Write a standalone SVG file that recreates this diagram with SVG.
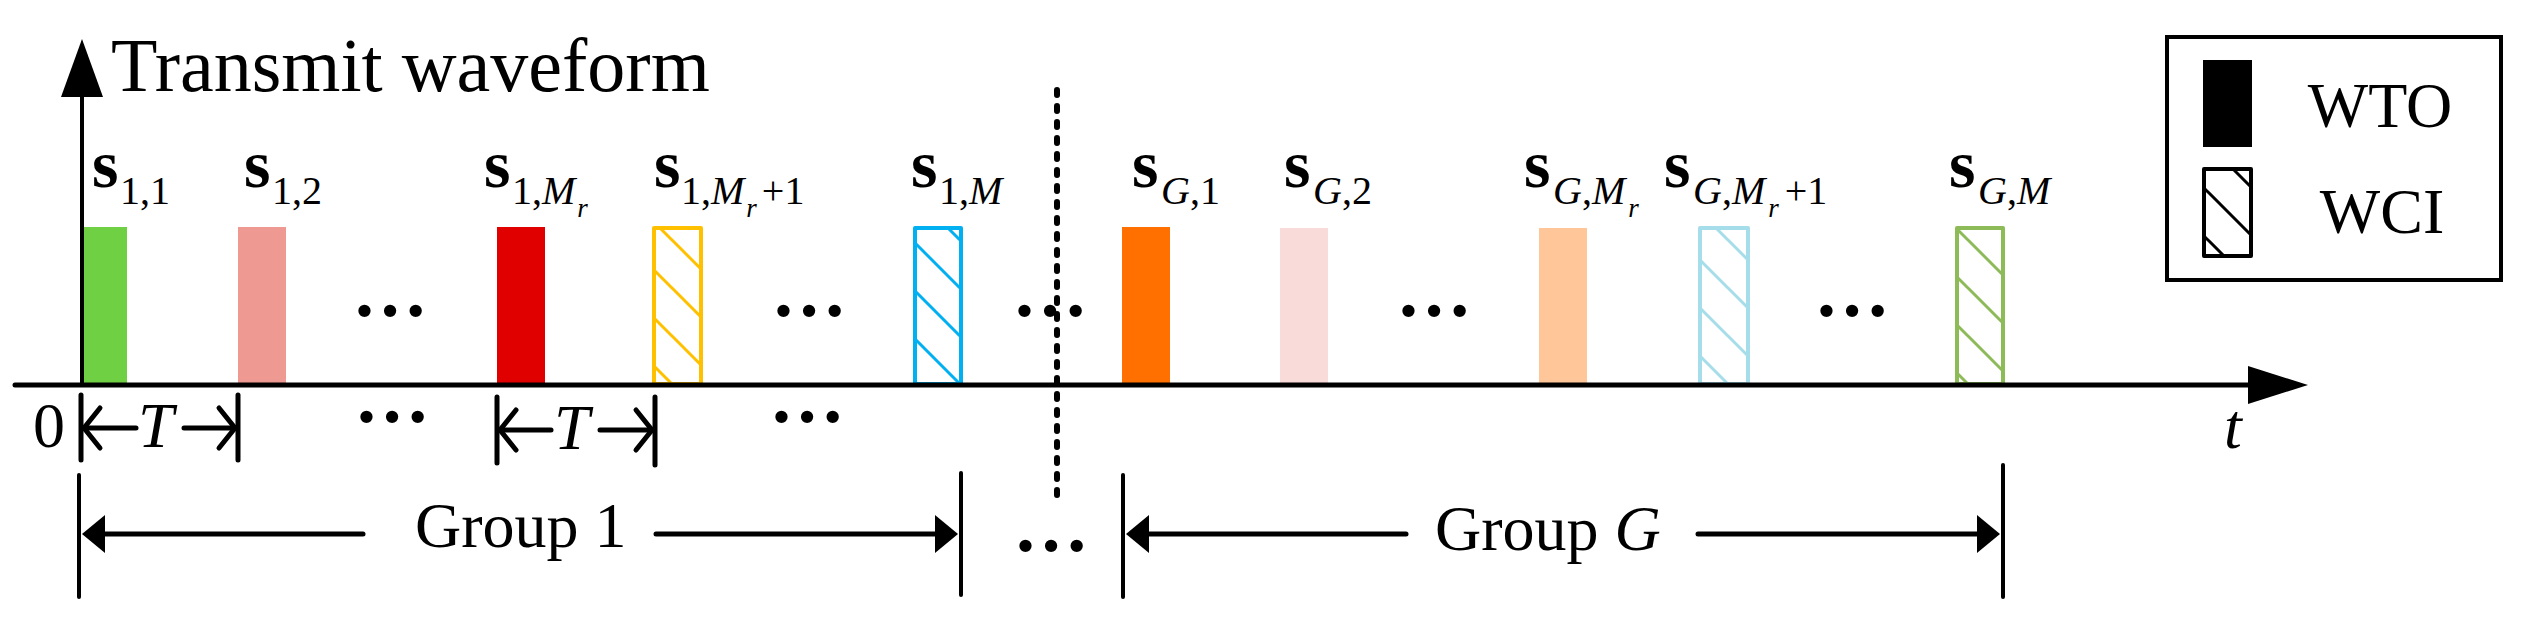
<svg xmlns="http://www.w3.org/2000/svg" width="2522" height="618" viewBox="0 0 2522 618">
<style>
text{font-family:"Liberation Serif","Times New Roman",serif;fill:#000}
.sb{font-weight:bold;font-size:68px}
.sub{font-size:40px}
.ss{font-size:27px}
.it{font-style:italic}
.big{font-size:76px}
.dt{font-size:76px;font-weight:bold}
.mid{font-size:64px}
.ln{stroke:#000;fill:none;stroke-linecap:round}
.hd{fill:#000;stroke:none}
.ob{stroke-width:4;stroke-linejoin:round}
</style>
<defs>
<pattern id="hY" patternUnits="userSpaceOnUse" width="48" height="48"><path d="M-4,-4L52,52M-4,44L4,52M44,-4L52,4" stroke="#FFC000" stroke-width="3"/></pattern>
<pattern id="hC" patternUnits="userSpaceOnUse" width="48" height="48"><path d="M-4,-4L52,52M-4,44L4,52M44,-4L52,4" stroke="#00B0F0" stroke-width="3"/></pattern>
<pattern id="hL" patternUnits="userSpaceOnUse" width="48" height="48"><path d="M-4,-4L52,52M-4,44L4,52M44,-4L52,4" stroke="#A6DDEA" stroke-width="3"/></pattern>
<pattern id="hG" patternUnits="userSpaceOnUse" width="48" height="48"><path d="M-4,-4L52,52M-4,44L4,52M44,-4L52,4" stroke="#8DBB58" stroke-width="3"/></pattern>
<pattern id="hK" patternUnits="userSpaceOnUse" width="48" height="48"><path d="M-4,-4L52,52M-4,44L4,52M44,-4L52,4" stroke="#000" stroke-width="3"/></pattern>
</defs>
<rect width="2522" height="618" fill="#fff"/>

<text class="big" x="111" y="91">Transmit waveform</text>

<g id="s11"><rect x="84" y="227" width="43" height="159" fill="#70D044"/>
<text><tspan class="sb" x="92" y="187">s</tspan><tspan class="sub" x="120" y="204">1,1</tspan></text></g>
<g id="s12"><rect x="238" y="227" width="48" height="159" fill="#EE9A93"/>
<text><tspan class="sb" x="244" y="187">s</tspan><tspan class="sub" x="272" y="204">1,2</tspan></text></g>
<g id="s1Mr"><rect x="497" y="227" width="48" height="159" fill="#E00000"/>
<text><tspan class="sb" x="484" y="187">s</tspan><tspan class="sub" x="512" y="204">1,<tspan class="it">M</tspan></tspan><tspan class="ss it" y="217" dx="2">r</tspan></text></g>
<g id="s1Mr1"><rect x="654" y="228" width="47" height="156" fill="url(#hY)" stroke="#FFC000" class="ob"/>
<text><tspan class="sb" x="654" y="187">s</tspan><tspan class="sub" x="681" y="204">1,<tspan class="it">M</tspan></tspan><tspan class="ss it" y="217" dx="2">r</tspan><tspan class="sub" y="204" dx="5">+1</tspan></text></g>
<g id="s1M"><rect x="915" y="228" width="46" height="156" fill="url(#hC)" stroke="#00B0F0" class="ob"/>
<text><tspan class="sb" x="911" y="187">s</tspan><tspan class="sub" x="939" y="204">1,<tspan class="it">M</tspan></tspan></text></g>
<g id="sG1"><rect x="1122" y="227" width="48" height="159" fill="#FF7000"/>
<text><tspan class="sb" x="1132" y="187">s</tspan><tspan class="sub" x="1161" y="204"><tspan class="it">G</tspan>,1</tspan></text></g>
<g id="sG2"><rect x="1280" y="228" width="48" height="158" fill="#F9DCDA"/>
<text><tspan class="sb" x="1284" y="187">s</tspan><tspan class="sub" x="1313" y="204"><tspan class="it">G</tspan>,2</tspan></text></g>
<g id="sGMr"><rect x="1539" y="228" width="48" height="158" fill="#FFC699"/>
<text><tspan class="sb" x="1524" y="187">s</tspan><tspan class="sub" x="1553" y="204"><tspan class="it">G</tspan>,<tspan class="it">M</tspan></tspan><tspan class="ss it" y="217" dx="3">r</tspan></text></g>
<g id="sGMr1"><rect x="1700" y="228" width="48" height="156" fill="url(#hL)" stroke="#A6DDEA" class="ob"/>
<text><tspan class="sb" x="1664" y="187">s</tspan><tspan class="sub" x="1693" y="204"><tspan class="it">G</tspan>,<tspan class="it">M</tspan></tspan><tspan class="ss it" y="217" dx="3">r</tspan><tspan class="sub" y="204" dx="6">+1</tspan></text></g>
<g id="sGM"><rect x="1957" y="228" width="46" height="156" fill="url(#hG)" stroke="#8DBB58" class="ob"/>
<text><tspan class="sb" x="1949" y="187">s</tspan><tspan class="sub" x="1978" y="204"><tspan class="it">G</tspan>,<tspan class="it">M</tspan></tspan></text></g>

<g id="dots">
<text class="dt" x="352" y="316">…</text>
<text class="dt" x="771" y="316">…</text>
<text class="dt" x="1012" y="316">…</text>
<text class="dt" x="1396" y="316">…</text>
<text class="dt" x="1814" y="316">…</text>
<text class="dt" x="354" y="422">…</text>
<text class="dt" x="769" y="422">…</text>
<text class="dt" x="1013" y="551">…</text>
</g>

<g id="legend">
<rect x="2167" y="37" width="334" height="243" fill="#fff" stroke="#000" stroke-width="4"/>
<rect x="2203" y="60" width="49" height="87" fill="#000"/>
<rect x="2204" y="169" width="47" height="87" fill="url(#hK)" stroke="#000" class="ob"/>
<text class="mid" x="2380" y="127" text-anchor="middle">WTO</text>
<text class="mid" x="2382" y="233" text-anchor="middle">WCI</text>
</g>

<g id="connectors">
<line class="ln" x1="15" y1="385" x2="2252" y2="385" stroke-width="5"/>
<polygon class="hd" points="2308,385 2248,366 2248,404"/>
<line class="ln" x1="82" y1="385" x2="82" y2="95" stroke-width="4"/>
<polygon class="hd" points="82,39 61,97 103,97"/>
<line x1="1057" y1="90" x2="1057" y2="498" stroke="#000" stroke-width="6" stroke-dasharray="5 11" stroke-linecap="round"/>

<g id="T1">
<line class="ln" x1="81" y1="395" x2="81" y2="460" stroke-width="5"/>
<line class="ln" x1="238" y1="395" x2="238" y2="460" stroke-width="5"/>
<polyline class="ln" points="100,408 84,428 100,448" stroke-width="5"/>
<line class="ln" x1="84" y1="428" x2="136" y2="428" stroke-width="5"/>
<polyline class="ln" points="219,408 235,428 219,448" stroke-width="5"/>
<line class="ln" x1="184" y1="428" x2="235" y2="428" stroke-width="5"/>
</g>
<g id="T2">
<line class="ln" x1="497" y1="397" x2="497" y2="463" stroke-width="5"/>
<line class="ln" x1="655" y1="397" x2="655" y2="465" stroke-width="5"/>
<polyline class="ln" points="516,410 500,430 516,450" stroke-width="5"/>
<line class="ln" x1="500" y1="430" x2="551" y2="430" stroke-width="5"/>
<polyline class="ln" points="636,410 652,430 636,450" stroke-width="5"/>
<line class="ln" x1="600" y1="430" x2="652" y2="430" stroke-width="5"/>
</g>
<g id="G1">
<line class="ln" x1="79" y1="475" x2="79" y2="597" stroke-width="4"/>
<line class="ln" x1="961" y1="473" x2="961" y2="595" stroke-width="4"/>
<line class="ln" x1="100" y1="534" x2="363" y2="534" stroke-width="5"/>
<polygon class="hd" points="82,534 105,515 105,553"/>
<line class="ln" x1="656" y1="534" x2="940" y2="534" stroke-width="5"/>
<polygon class="hd" points="958,534 935,515 935,553"/>
</g>
<g id="GG">
<line class="ln" x1="1123" y1="475" x2="1123" y2="597" stroke-width="4"/>
<line class="ln" x1="2003" y1="465" x2="2003" y2="597" stroke-width="4"/>
<line class="ln" x1="1144" y1="534" x2="1406" y2="534" stroke-width="5"/>
<polygon class="hd" points="1126,534 1149,515 1149,553"/>
<line class="ln" x1="1698" y1="534" x2="1982" y2="534" stroke-width="5"/>
<polygon class="hd" points="2000,534 1977,515 1977,553"/>
</g>
</g>

<g id="labels">
<text class="mid" x="33" y="447">0</text>
<text class="mid it" x="138" y="447">T</text>
<text class="mid it" x="554" y="449">T</text>
<text class="mid it" x="2224" y="448">t</text>
<text class="mid" x="415" y="547">Group 1</text>
<text class="mid" x="1435" y="550">Group <tspan class="it">G</tspan></text>
</g>
</svg>
